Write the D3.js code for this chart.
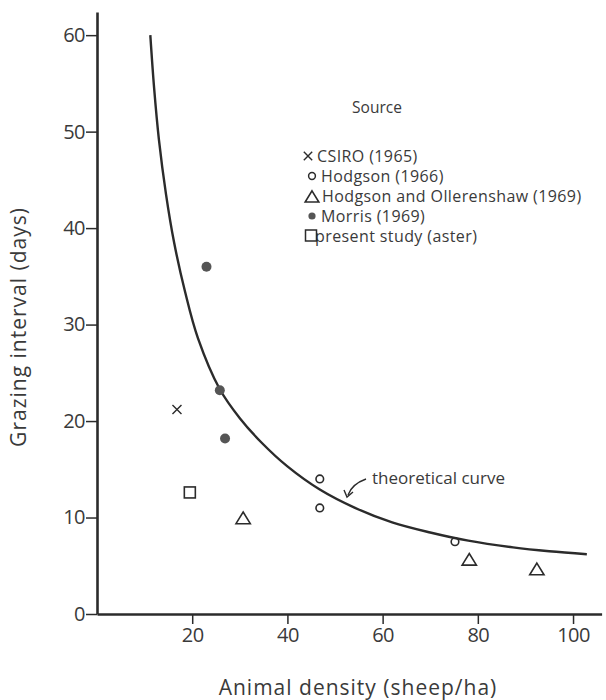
<!DOCTYPE html>
<html>
<head>
<meta charset="utf-8">
<script src="https://cdn.jsdelivr.net/npm/d3@7"></script>
<style>
  body { margin: 0; background: #fff; }
  text { font-family: "Open Sans", Lato, sans-serif; fill: #3a3a3a; }
</style>
</head>
<body>
<script>
// data
const xTicks = [20, 40, 60, 80, 100];
const yTicks = [0, 10, 20, 30, 40, 50, 60];

const csiro = [[16.8, 21.2]];
const hodgson = [[46.8, 14.0], [46.8, 11.0], [75.2, 7.5]];
const hodgsonOll = [[30.7, 9.9], [78.2, 5.6], [92.4, 4.6]];
const morris = [[23.0, 36.0], [25.8, 23.2], [26.9, 18.2]];
const present = [[19.5, 12.6]];

const curve = [[11.2, 60.0], [12.0, 54.5], [13.0, 49.2], [14.5, 43.5], [16.2, 38.5],
               [18.5, 33.4], [21.2, 28.6], [25.8, 23.3], [30.0, 20.3], [34.7, 17.7],
               [40.0, 15.3], [46.8, 12.9], [54.2, 11.0], [62.0, 9.5], [70.0, 8.45],
               [78.0, 7.6], [87.4, 6.9], [95.0, 6.5], [102.9, 6.2]];

const legendItems = ["CSIRO (1965)", "Hodgson (1966)", "Hodgson and Ollerenshaw (1969)",
                     "Morris (1969)", "present study (aster)"];

const svg = d3.select('body').append('svg')
              .attr('width', 606)
              .attr('height', 700);

const x = d3.scaleLinear().domain([0, 106]).range([97, 601.6]);
const y = d3.scaleLinear().domain([0, 62.4]).range([614, 12]);

const ink = '#2b2b2b';

// axes
const xAxis = svg.append('g').attr('transform', 'translate(0,614)')
                 .call(d3.axisBottom(x).tickValues(xTicks).tickSize(10).tickSizeOuter(0).tickPadding(4));
const yAxis = svg.append('g').attr('transform', 'translate(97,0)')
                 .call(d3.axisLeft(y).tickValues(yTicks).tickSize(11).tickSizeOuter(0).tickPadding(1));
[xAxis, yAxis].forEach(a => {
  a.select('.domain').style('stroke', ink).style('stroke-width', 2.6);
  a.selectAll('.tick line').style('stroke', ink).style('stroke-width', 1.5);
  a.selectAll('.tick text').style('font-family', '"Open Sans", sans-serif').style('font-size', '20px')
   .style('letter-spacing', '-0.5px').style('fill', '#3a3a3a');
});

svg.append('text').attr('x', 358).attr('y', 695).attr('text-anchor', 'middle')
   .style('font-size', '21px').style('letter-spacing', '1px').text('Animal density (sheep/ha)');
svg.append('text').attr('transform', 'translate(26,327) rotate(-90)').attr('text-anchor', 'middle')
   .style('font-size', '21px').style('letter-spacing', '1px').text('Grazing interval (days)');

// curve
svg.append('path').datum(curve)
   .attr('d', d3.line().x(d => x(d[0])).y(d => y(d[1])).curve(d3.curveCatmullRom))
   .style('fill', 'none').style('stroke', ink).style('stroke-width', 2.4);

// markers
const cross = (g, px, py, s) => {
  g.append('path').attr('d', `M${px - s},${py - s}L${px + s},${py + s}M${px - s},${py + s}L${px + s},${py - s}`)
   .style('stroke', ink).style('stroke-width', 1.4);
};
const tri = (g, px, py, s) => {
  g.append('path').attr('d', `M${px},${py - s}L${px + s * 1.1},${py + s * 0.8}L${px - s * 1.1},${py + s * 0.8}Z`)
   .style('fill', 'none').style('stroke', ink).style('stroke-width', 1.6);
};
const marks = svg.append('g');
csiro.forEach(d => cross(marks, x(d[0]), y(d[1]), 4.5));
marks.selectAll('.hod').data(hodgson).join('circle')
     .attr('cx', d => x(d[0])).attr('cy', d => y(d[1])).attr('r', 3.8)
     .style('fill', 'none').style('stroke', ink).style('stroke-width', 1.6);
hodgsonOll.forEach(d => tri(marks, x(d[0]), y(d[1]), 6.5));
marks.selectAll('.mor').data(morris).join('circle')
     .attr('cx', d => x(d[0])).attr('cy', d => y(d[1])).attr('r', 5)
     .style('fill', '#555');
marks.selectAll('.pre').data(present).join('rect')
     .attr('x', d => x(d[0]) - 5.5).attr('y', d => y(d[1]) - 5.5).attr('width', 11).attr('height', 11)
     .style('fill', 'none').style('stroke', ink).style('stroke-width', 1.6);

// annotation
svg.append('text').attr('x', 372).attr('y', 484).style('font-size', '17px').text('theoretical curve');
svg.append('path').attr('d', 'M366,479 Q352,484 348,495')
   .style('fill', 'none').style('stroke', ink).style('stroke-width', 1.4);
svg.append('path').attr('d', 'M344,490 L347,497 L353,492')
   .style('fill', 'none').style('stroke', ink).style('stroke-width', 1.4);

// legend
const legend = svg.append('g');
legend.append('text').attr('x', 377).attr('y', 113).attr('text-anchor', 'middle')
      .style('font-size', '15.5px').text('Source');
const rowY = [156, 176, 196, 216, 236];
const textX = [317, 321, 322, 321, 315];
legend.selectAll('.lt').data(legendItems).join('text')
      .attr('x', (d, i) => textX[i]).attr('y', (d, i) => rowY[i] + 6)
      .style('font-size', '16px').style('letter-spacing', '0.4px').text(d => d);
cross(legend, 308, rowY[0], 4.2);
legend.append('circle').attr('cx', 312).attr('cy', rowY[1]).attr('r', 3.4)
      .style('fill', 'none').style('stroke', ink).style('stroke-width', 1.5);
tri(legend, 312, rowY[2] + 1, 6.2);
legend.append('circle').attr('cx', 312).attr('cy', rowY[3]).attr('r', 3.6).style('fill', '#555');
legend.append('rect').attr('x', 305.5).attr('y', rowY[4] - 6).attr('width', 11).attr('height', 11)
      .style('fill', 'none').style('stroke', ink).style('stroke-width', 1.5);
</script>
</body>
</html>
